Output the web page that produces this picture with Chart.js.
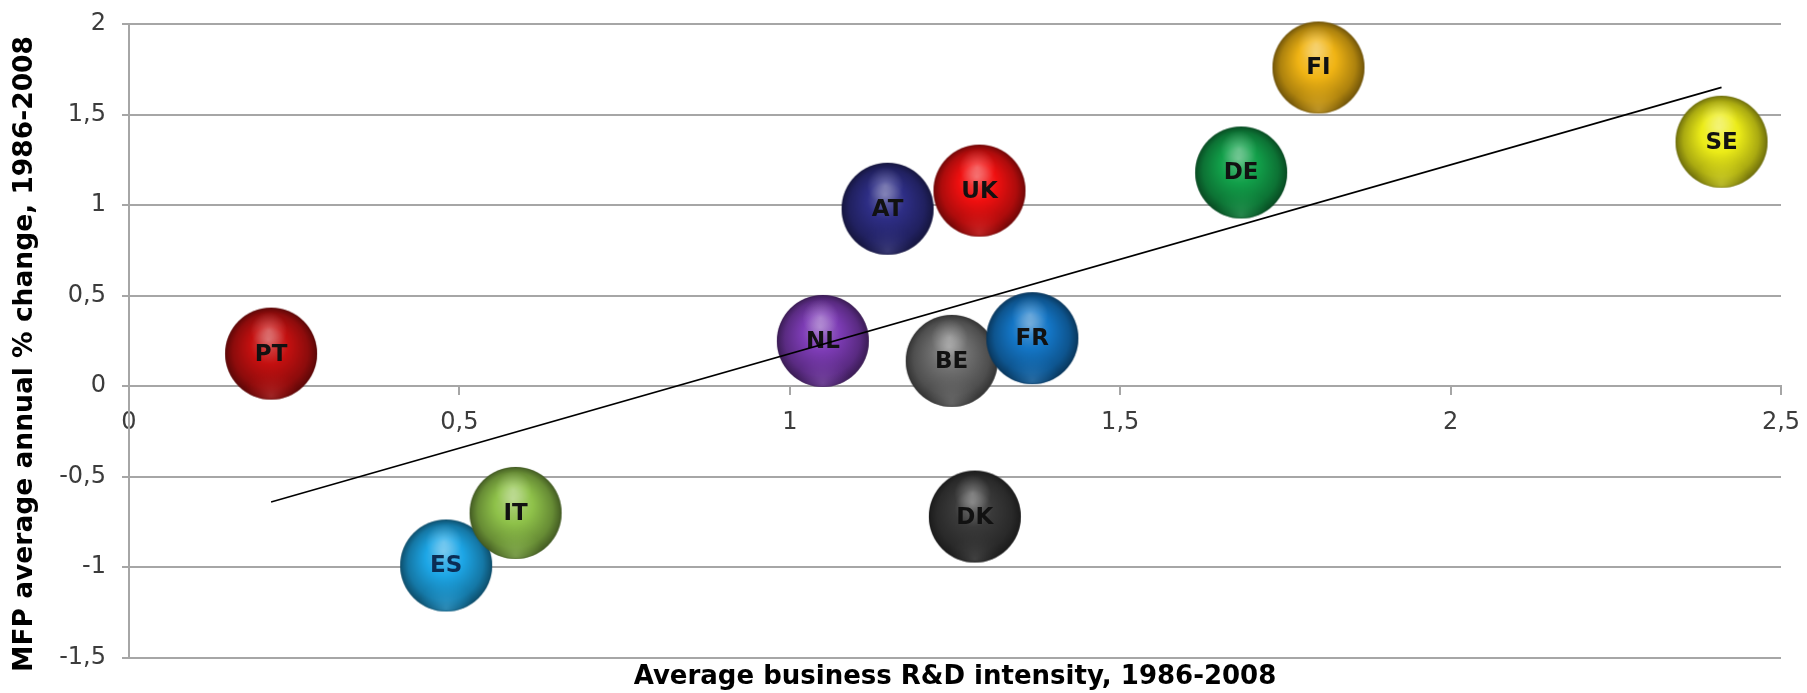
<!DOCTYPE html>
<html>
<head>
<meta charset="utf-8">
<title>MFP growth vs business R&amp;D intensity</title>
<script src="https://cdn.jsdelivr.net/npm/chart.js@4/dist/chart.umd.min.js"></script>
<style>
  html, body { margin: 0; padding: 0; background: #ffffff; }
  #chart { display: block; }
</style>
</head>
<body>
<canvas id="chart" width="1807" height="693"></canvas>
<script>
// Country codes and their values
const countries   = ['PT', 'ES', 'IT', 'NL', 'AT', 'UK', 'BE', 'FR', 'DK', 'DE', 'FI', 'SE'];
const rdIntensity = [0.215, 0.48, 0.585, 1.05, 1.148, 1.287, 1.245, 1.367, 1.28, 1.683, 1.80, 2.41];
const mfpChange   = [0.18, -0.99, -0.70, 0.25, 0.98, 1.08, 0.14, 0.265, -0.72, 1.18, 1.76, 1.35];

// Fitted trend line end points
const trendX = [0.215, 2.41];
const trendY = [-0.64, 1.65];

// Axis tick labels (decimal comma)
const xTickLabels = ['0', '0,5', '1', '1,5', '2', '2,5'];
const yTickLabels = ['-1,5', '-1', '-0,5', '0', '0,5', '1', '1,5', '2'];

const xTitle = 'Average business R&D intensity, 1986-2008';
const yTitle = 'MFP average annual % change, 1986-2008';

// Sphere colours and label colours per country
const sphereColors = ['#c41010', '#1da6e6', '#8fc24a', '#7d3cb5', '#2e2e85', '#f01010',
                      '#6e6e6e', '#1476c6', '#3a3a3a', '#12a04a', '#f0b414', '#ecec18'];
const labelColors  = ['#111', '#0b2d55', '#111', '#111', '#111', '#111',
                      '#111', '#111', '#111', '#111', '#111', '#111'];

const FONT = '"DejaVu Sans", Verdana, sans-serif';
const GRID = '#a6a6a6';
const SPHERE_R = 46;

function hexToRgb(h) {
  h = h.replace('#', '');
  if (h.length === 3) h = h.split('').map(c => c + c).join('');
  return [parseInt(h.slice(0, 2), 16), parseInt(h.slice(2, 4), 16), parseInt(h.slice(4, 6), 16)];
}
function mix(a, b, t) {
  const A = hexToRgb(a), B = hexToRgb(b);
  return A.map((v, i) => Math.round(v + (B[i] - v) * t));
}
function rgba(arr, a) { return 'rgba(' + arr[0] + ',' + arr[1] + ',' + arr[2] + ',' + a + ')'; }

// Pre-render a shaded glossy sphere used as the point style
function makeSphere(hex, r) {
  const pad = 3;
  const c = document.createElement('canvas');
  c.width = c.height = Math.ceil(2 * r + 2 * pad);
  const g = c.getContext('2d');
  const cx = c.width / 2, cy = c.height / 2;
  g.translate(cx, cy);

  const base = g.createRadialGradient(-0.06 * r, -0.3 * r, 0, 0, 0, r * 1.02);
  base.addColorStop(0.0, rgba(mix(hex, '#ffffff', 0.3), 1));
  base.addColorStop(0.4, rgba(hexToRgb(hex), 1));
  base.addColorStop(0.8, rgba(mix(hex, '#000000', 0.28), 1));
  base.addColorStop(1.0, rgba(mix(hex, '#000000', 0.55), 1));
  g.beginPath();
  g.arc(0, 0, r, 0, Math.PI * 2);
  g.fillStyle = base;
  g.fill();

  g.save();
  g.beginPath();
  g.arc(0, 0, r, 0, Math.PI * 2);
  g.clip();
  // soft reflected light near the bottom
  const refl = g.createRadialGradient(0, r * 0.92, 0, 0, r * 0.92, r * 0.6);
  refl.addColorStop(0, rgba(mix(hex, '#ffffff', 0.2), 0.5));
  refl.addColorStop(1, rgba(hexToRgb(hex), 0));
  g.fillStyle = refl;
  g.fillRect(-r, -r, 2 * r, 2 * r);
  // specular highlight near the top
  const spec = g.createRadialGradient(-0.05 * r, -0.5 * r, 0, -0.05 * r, -0.5 * r, r * 0.4);
  spec.addColorStop(0, 'rgba(255,255,255,0.3)');
  spec.addColorStop(1, 'rgba(255,255,255,0)');
  g.fillStyle = spec;
  g.fillRect(-r, -r, 2 * r, 2 * r);
  g.restore();

  // slightly soft rim
  g.beginPath();
  g.arc(0, 0, r - 0.5, 0, Math.PI * 2);
  g.lineWidth = 1.2;
  g.strokeStyle = rgba(mix(hex, '#000000', 0.55), 0.35);
  g.stroke();
  return c;
}

const sphereImages = sphereColors.map(c => makeSphere(c, SPHERE_R));

const points = countries.map((c, i) => ({ x: rdIntensity[i], y: mfpChange[i] }));
const trendPoints = trendX.map((x, i) => ({ x: x, y: trendY[i] }));

// Country codes written on each sphere, before the trend line is drawn
const sphereLabels = {
  id: 'sphereLabels',
  afterDatasetDraw(chart, args) {
    if (args.index !== 0) return;
    const ctx = chart.ctx;
    ctx.save();
    ctx.font = 'bold 23px ' + FONT;
    ctx.textAlign = 'center';
    ctx.textBaseline = 'middle';
    args.meta.data.forEach((el, i) => {
      ctx.fillStyle = labelColors[i];
      ctx.fillText(countries[i], el.x, el.y + 1);
    });
    ctx.restore();
  }
};

// Vertical axis title placed at the left edge
const yAxisTitle = {
  id: 'yAxisTitle',
  afterDraw(chart) {
    const ctx = chart.ctx;
    ctx.save();
    ctx.translate(25, 354);
    ctx.rotate(-Math.PI / 2);
    ctx.font = 'bold 26.5px ' + FONT;
    ctx.fillStyle = '#000';
    ctx.textAlign = 'center';
    ctx.textBaseline = 'middle';
    ctx.fillText(yTitle, 0, 0);
    ctx.restore();
  }
};

new Chart(document.getElementById('chart'), {
  type: 'scatter',
  data: {
    datasets: [
      {
        label: 'Countries',
        data: points,
        order: 1,
        pointStyle: sphereImages,
        pointRadius: SPHERE_R,
        pointHoverRadius: SPHERE_R,
        clip: false
      },
      {
        type: 'line',
        label: 'Trend',
        data: trendPoints,
        order: 0,
        showLine: true,
        borderColor: '#000',
        borderWidth: 1.6,
        pointRadius: 0,
        fill: false,
        clip: false
      }
    ]
  },
  options: {
    responsive: false,
    animation: false,
    devicePixelRatio: 1,
    layout: { autoPadding: false, padding: { left: 0, right: 26, top: 24, bottom: 0 } },
    plugins: {
      legend: { display: false },
      tooltip: { enabled: false },
      title: {
        display: true,
        position: 'bottom',
        fullSize: false,
        text: xTitle,
        color: '#000',
        font: { family: FONT, size: 26, weight: 'bold', lineHeight: 1.2 },
        padding: { top: 4, bottom: 0 }
      }
    },
    scales: {
      x: {
        type: 'linear',
        min: 0,
        max: 2.5,
        position: { y: 0 },
        ticks: {
          stepSize: 0.5,
          padding: 14,
          color: '#3c3c3c',
          font: { family: FONT, size: 24 },
          maxRotation: 0,
          callback: (v, i) => xTickLabels[i]
        },
        grid: { drawOnChartArea: false, drawTicks: true, tickLength: 8, color: GRID, lineWidth: 2 },
        border: { display: true, color: GRID, width: 2 },
        afterFit(scale) { scale.paddingLeft = 0; scale.paddingRight = 0; }
      },
      y: {
        type: 'linear',
        min: -1.5,
        max: 2,
        position: 'left',
        ticks: {
          stepSize: 0.5,
          padding: 16,
          color: '#3c3c3c',
          font: { family: FONT, size: 24 },
          callback: (v, i) => yTickLabels[i]
        },
        grid: { drawTicks: true, tickLength: 7, color: GRID, lineWidth: 2 },
        border: { display: true, color: GRID, width: 2 },
        afterFit(scale) { scale.width = 129; scale.paddingTop = 0; scale.paddingBottom = 0; }
      }
    }
  },
  plugins: [sphereLabels, yAxisTitle]
});
</script>
</body>
</html>
